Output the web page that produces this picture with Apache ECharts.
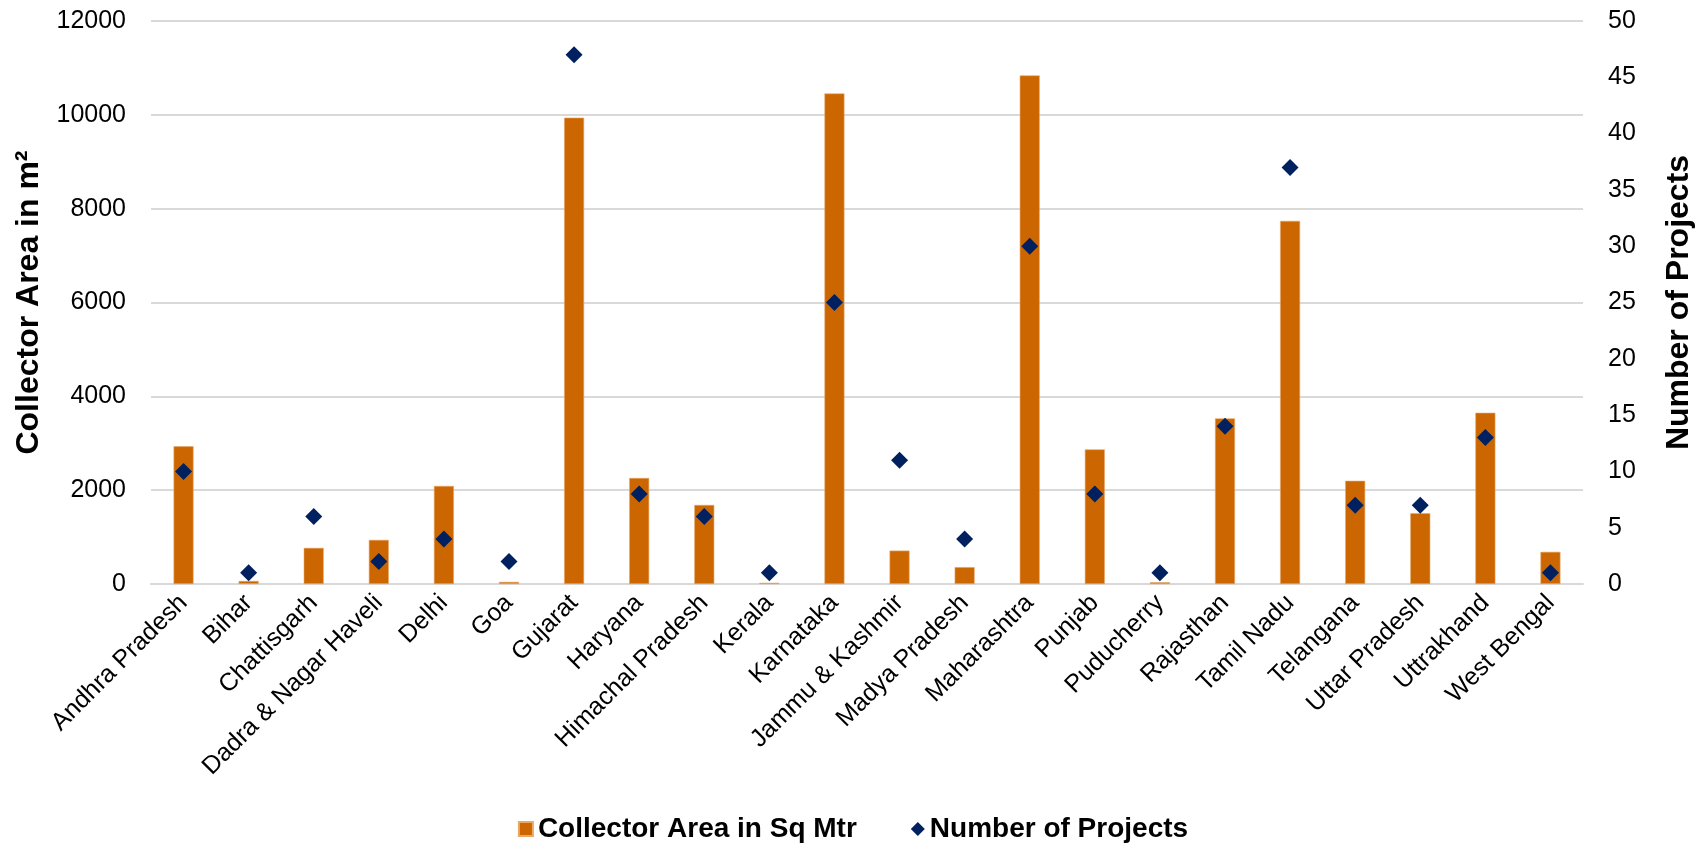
<!DOCTYPE html>
<html>
<head>
<meta charset="utf-8">
<title>Solar Collector Area by State</title>
<script src="https://cdn.jsdelivr.net/npm/echarts@6/dist/echarts.min.js"></script>
<style>
  html, body { margin: 0; padding: 0; background: #fff; }
  #chart { width: 1706px; height: 843px; }
</style>
</head>
<body>
<div id="chart"></div>
<script>
// States / UTs
const states = [
  'Andhra Pradesh', 'Bihar', 'Chattisgarh', 'Dadra & Nagar Haveli', 'Delhi', 'Goa',
  'Gujarat', 'Haryana', 'Himachal Pradesh', 'Kerala', 'Karnataka', 'Jammu & Kashmir',
  'Madya Pradesh', 'Maharashtra', 'Punjab', 'Puducherry', 'Rajasthan', 'Tamil Nadu',
  'Telangana', 'Uttar Pradesh', 'Uttrakhand', 'West Bengal'
];

// Collector area installed (sq m)
const collectorArea = [
  2935, 65, 770, 940, 2090, 45,
  9940, 2260, 1685, 25, 10455, 712,
  360, 10840, 2870, 38, 3530, 7740,
  2200, 1510, 3650, 685
];

// Number of projects
const projectCount = [
  10, 1, 6, 2, 4, 2,
  47, 8, 6, 1, 25, 11,
  4, 30, 8, 1, 14, 37,
  7, 7, 13, 1
];

const FONT = '"Liberation Sans", Arial, sans-serif';
const BAR_COLOR = '#CC6600';
const DOT_COLOR = '#002060';

const chart = echarts.init(document.getElementById('chart'), null, { renderer: 'canvas' });

chart.setOption({
  animation: false,
  backgroundColor: '#ffffff',
  textStyle: { fontFamily: FONT, color: '#000' },
  grid: { left: 151, right: 123, top: 21, bottom: 259, containLabel: false },
  legend: {
    top: 809,
    left: 'center',
    itemWidth: 14,
    itemHeight: 14,
    itemGap: 54,
    textStyle: { fontFamily: FONT, fontSize: 28, lineHeight: 30, fontWeight: 'bold', color: '#000' },
    data: [
      { name: 'Collector Area in Sq Mtr', icon: 'rect' },
      { name: 'Number of Projects', icon: 'diamond' }
    ]
  },
  xAxis: {
    type: 'category',
    data: states,
    axisTick: { show: false },
    axisLine: { show: true, lineStyle: { color: '#D9D9D9', width: 2 } },
    axisLabel: {
      interval: 0,
      rotate: 45,
      margin: 15,
      fontFamily: FONT,
      fontSize: 25,
      color: '#000'
    }
  },
  yAxis: [
    {
      type: 'value',
      min: 0,
      max: 12000,
      interval: 2000,
      name: 'Collector Area in m²',
      nameLocation: 'middle',
      nameGap: 100,
      nameRotate: 90,
      nameTextStyle: { fontFamily: FONT, fontSize: 32, fontWeight: 'bold', color: '#000' },
      axisLine: { show: false },
      axisTick: { show: false },
      axisLabel: {
        margin: 25, fontFamily: FONT, fontSize: 25, color: '#000',
        formatter: (v) => String(v)
      },
      splitLine: { show: true, lineStyle: { color: '#D9D9D9', width: 2 } }
    },
    {
      type: 'value',
      min: 0,
      max: 50,
      interval: 5,
      position: 'right',
      name: 'Number of Projects',
      nameLocation: 'middle',
      nameGap: 80,
      nameRotate: 90,
      nameTextStyle: { fontFamily: FONT, fontSize: 32, fontWeight: 'bold', color: '#000' },
      axisLine: { show: false },
      axisTick: { show: false },
      axisLabel: { margin: 25, fontFamily: FONT, fontSize: 25, color: '#000' },
      splitLine: { show: false }
    }
  ],
  series: [
    {
      name: 'Collector Area in Sq Mtr',
      type: 'bar',
      yAxisIndex: 0,
      data: collectorArea,
      barWidth: 20,
      itemStyle: { color: BAR_COLOR, borderColor: '#E9A86A', borderWidth: 0.6 }
    },
    {
      name: 'Number of Projects',
      type: 'scatter',
      yAxisIndex: 1,
      data: projectCount,
      symbol: 'diamond',
      symbolSize: 17,
      itemStyle: { color: DOT_COLOR, opacity: 1 },
      z: 3
    }
  ]
});
</script>
</body>
</html>
